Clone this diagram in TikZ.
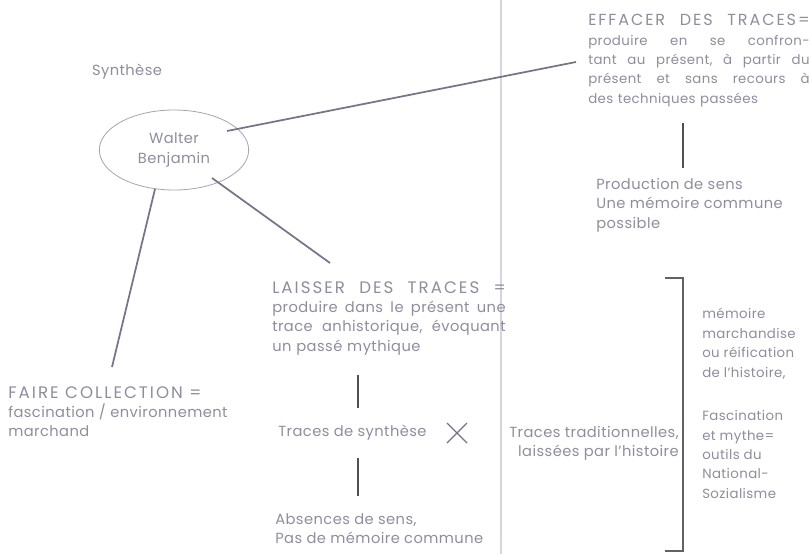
\documentclass[tikz,border=0pt]{standalone}
\usepackage{fontspec}
\setmainfont[LetterSpace=3]{Poppins}
\usetikzlibrary{shapes.geometric}
\definecolor{txt}{HTML}{8E8E9E}
\definecolor{lnk}{HTML}{75758A}
\definecolor{bar}{HTML}{505058}
\definecolor{fold}{HTML}{D4D4E2}
\newcommand\jline[2]{\leavevmode\hbox to #1{#2}\\}
\newcommand\smallfs{\fontsize{10}{14.6}\selectfont}
\newcommand\capsls[1]{\fontsize{#1}{14.6}\selectfont\addfontfeature{LetterSpace=12}}
\tikzset{
  txtnode/.style={inner sep=0pt, text=txt, align=left},
  link/.style={draw=lnk, line width=1.3pt},
  vbar/.style={draw=bar, line width=1.8pt},
}
\begin{document}
\begin{tikzpicture}[x=0.75pt,y=-0.75pt,font=\fontsize{11}{14.6}\selectfont]
\useasboundingbox (0,0) rectangle (812,554);
\fill[white] (0,0) rectangle (812,554);
% fold line
\coordinate (f1) at (501,0);
\coordinate (f2) at (501,554);
\draw[fold, line width=1.2pt] (f1) -- (f2);

\node[txtnode] (syn) at (127,72) {Synthèse};
\node[ellipse, draw=txt!80, line width=0.6pt, minimum width=112pt, minimum height=60pt, text=txt, align=center, inner sep=0pt] (wb) at (174,150) {Walter\\Benjamin};

\node[txtnode, anchor=north west, text width=166pt, font=\smallfs] (eff) at (588,14) {%
\jline{166pt}{\capsls{12}EFFACER\hfill DES\hfill TRACES=}%
\jline{166pt}{produire\hfill en\hfill se\hfill confron-}%
\jline{166pt}{tant\hfill au\hfill présent,\hfill à\hfill partir\hfill du}%
\jline{166pt}{présent\hfill et\hfill sans\hfill recours\hfill à}%
des techniques passées};

\node[txtnode, anchor=north west] (prod) at (596,178) {Production de sens\\Une mémoire commune\\possible};

\node[txtnode, anchor=north west, text width=175pt] (lai) at (272,281) {%
\jline{175pt}{\capsls{12.5}LAISSER\hfill DES\hfill TRACES\hfill =}%
\jline{175pt}{produire\hfill dans\hfill le\hfill présent\hfill une}%
\jline{175pt}{trace\hfill anhistorique,\hfill évoquant}%
un passé mythique};

\node[txtnode, anchor=west] (tsyn) at (278,433) {Traces de synthèse};
\node[txtnode, anchor=north west] (abs) at (275,513) {Absences de sens,\\Pas de mémoire commune};
\node[txtnode, anchor=north west] (fc) at (8,386) {{\capsls{12.5}FAIRE COLLECTION =}\\fascination / environnement\\marchand};
\node[txtnode, anchor=north east, align=right] (trad) at (679,426) {Traces traditionnelles,\\laissées par l'histoire};
\node[txtnode, anchor=north west, font=\smallfs] (rt) at (702,308) {mémoire\\marchandise\\ou réification\\de l'histoire,\\[1.8em]Fascination\\et mythe=\\outils du\\National-\\Sozialisme};

% connectors from ellipse
\coordinate (w1) at (227,131);
\coordinate (e1) at (576,62);
\coordinate (w2) at (212,178);
\coordinate (l1) at (330,263);
\coordinate (w3) at (155,189);
\coordinate (c1) at (112,367);
\draw[link] (w1) -- (e1);
\draw[link] (w2) -- (l1);
\draw[link] (w3) -- (c1);

% vertical bars
\coordinate (b1a) at (683,123); \coordinate (b1b) at (683,168);
\coordinate (b2a) at (358,375); \coordinate (b2b) at (358,408);
\coordinate (b3a) at (358,458); \coordinate (b3b) at (358,496);
\draw[vbar] (b1a) -- (b1b);
\draw[vbar] (b2a) -- (b2b);
\draw[vbar] (b3a) -- (b3b);

% cross
\coordinate (x1) at (447,423); \coordinate (x2) at (467,443);
\coordinate (x3) at (447,443); \coordinate (x4) at (467,423);
\draw[lnk, line width=1pt] (x1) -- (x2) (x3) -- (x4);

% bracket
\coordinate (k1) at (665,278); \coordinate (k2) at (683,278);
\coordinate (k3) at (683,551); \coordinate (k4) at (665,551);
\draw[bar!90, line width=1.5pt] (k1) -- (k2) -- (k3) -- (k4);
\end{tikzpicture}
\end{document}
